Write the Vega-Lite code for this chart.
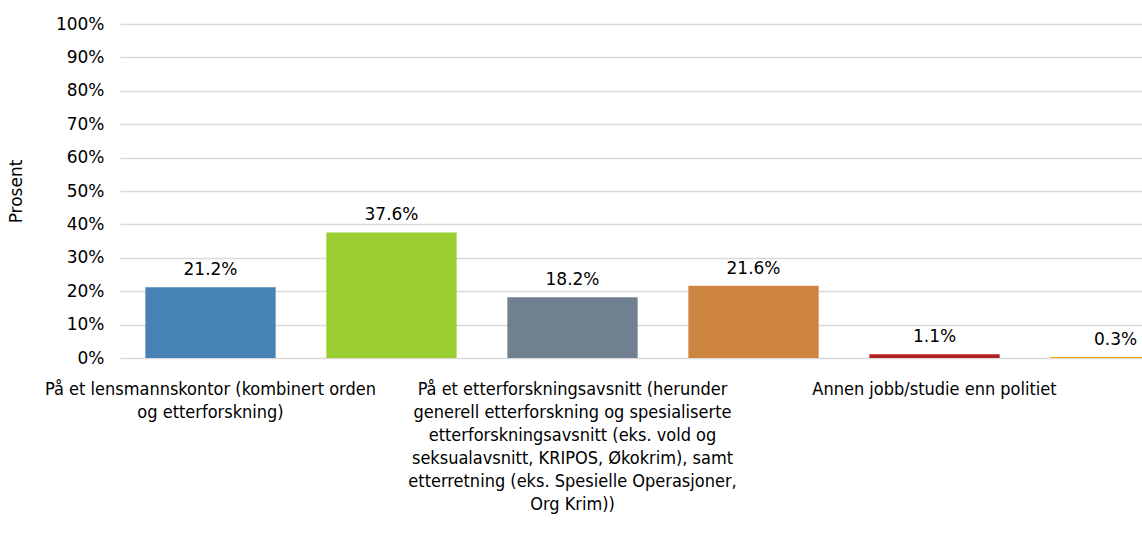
{
  "$schema": "https://vega.github.io/schema/vega-lite/v6.json",
  "autosize": "none",
  "width": 1086,
  "height": 334,
  "padding": {"left": 120, "top": 24, "right": 0, "bottom": 189},
  "background": "white",
  "config": {"view": {"stroke": null}},
  "data": {
    "values": [
      {"kategori": "På et lensmannskontor (kombinert orden og etterforskning)", "andel": 0.212},
      {"kategori": "På et ordensavsnitt (ordenstjeneste, trafikk, beredskap)", "andel": 0.376},
      {"kategori": "På et etterforskningsavsnitt (herunder generell etterforskning og spesialiserte etterforskningsavsnitt (eks. vold og seksualavsnitt, KRIPOS, Økokrim), samt etterretning (eks. Spesielle Operasjoner, Org Krim))", "andel": 0.182},
      {"kategori": "Annet sted i politiet", "andel": 0.216},
      {"kategori": "Annen jobb/studie enn politiet", "andel": 0.011},
      {"kategori": "Vet ikke", "andel": 0.003}
    ]
  },
  "encoding": {
    "x": {
      "field": "kategori",
      "type": "nominal",
      "sort": null,
      "scale": {"paddingInner": 0.28, "paddingOuter": 0.14},
      "axis": {
        "title": null,
        "domain": false,
        "ticks": false,
        "labelAngle": 0,
        "labelLimit": 0,
        "labelOverlap": false,
        "labelPadding": 22,
        "labelBaseline": "top",
        "labelLineHeight": 23,
        "labelFont": "Liberation Sans Narrow, DejaVu Sans Condensed, sans-serif",
        "labelFontSize": 18,
        "labelColor": "#000000",
        "labelExpr": "datum.value == 'På et lensmannskontor (kombinert orden og etterforskning)' ? ['På et lensmannskontor (kombinert orden', 'og etterforskning)'] : datum.value == 'Annen jobb/studie enn politiet' ? datum.value : indexof(datum.value, 'etterforskningsavsnitt (herunder') >= 0 ? ['På et etterforskningsavsnitt (herunder', 'generell etterforskning og spesialiserte', 'etterforskningsavsnitt (eks. vold og', 'seksualavsnitt, KRIPOS, Økokrim), samt', 'etterretning (eks. Spesielle Operasjoner,', 'Org Krim))'] : ''"
      }
    },
    "y": {
      "field": "andel",
      "type": "quantitative",
      "scale": {"domain": [0, 1]},
      "axis": {
        "title": "Prosent",
        "titleFont": "DejaVu Sans",
        "titleFontSize": 17,
        "titleFontWeight": "normal",
        "titleColor": "#000000",
        "titlePadding": 30,
        "format": ".0%",
        "values": [0, 0.1, 0.2, 0.3, 0.4, 0.5, 0.6, 0.7, 0.8, 0.9, 1],
        "labelOverlap": false,
        "domain": false,
        "ticks": false,
        "labelPadding": 16,
        "labelFont": "DejaVu Sans",
        "labelFontSize": 17,
        "labelColor": "#000000",
        "gridColor": "#d9d9d9",
        "gridWidth": 1.5
      }
    }
  },
  "layer": [
    {
      "mark": {"type": "bar"},
      "encoding": {
        "color": {
          "field": "kategori",
          "type": "nominal",
          "sort": null,
          "legend": null,
          "scale": {"range": ["#4682b4", "#9acd32", "#708090", "#cd853f", "#b22222", "#ffa500"]}
        }
      }
    },
    {
      "mark": {"type": "text", "baseline": "bottom", "dy": -8, "font": "DejaVu Sans", "fontSize": 17, "color": "#000000"},
      "encoding": {
        "text": {"field": "andel", "type": "quantitative", "format": ".1%"}
      }
    }
  ]
}
